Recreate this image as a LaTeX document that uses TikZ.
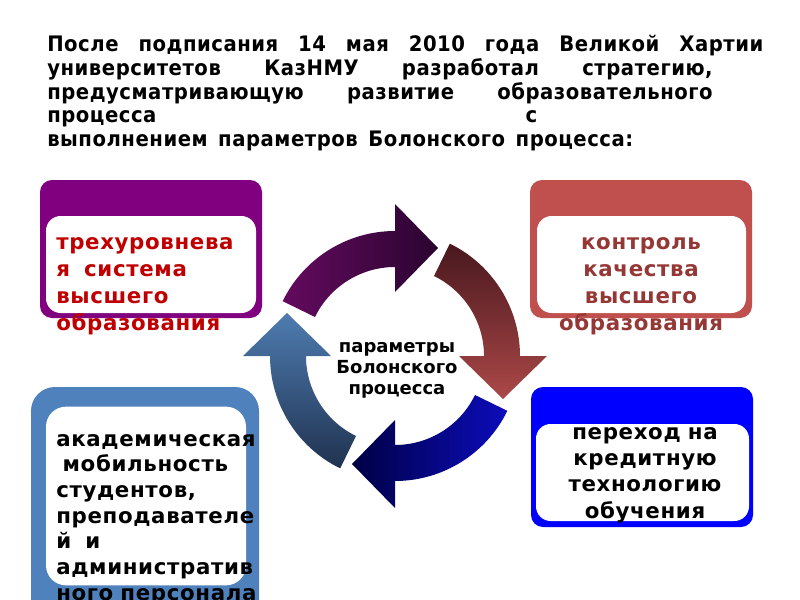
\documentclass[tikz,border=0pt]{standalone}
\usepackage{fontspec}
\setmainfont{DejaVu Sans}
\newfontfamily\titlefont[FakeStretch=0.92, LetterSpace=2.5]{DejaVu Sans}
\newfontfamily\boxfont[LetterSpace=3]{DejaVu Sans}
\usetikzlibrary{calc}
\definecolor{boxpurple}{RGB}{128,0,128}
\definecolor{boxred}{RGB}{192,80,77}
\definecolor{boxsteel}{RGB}{79,129,189}
\definecolor{boxblue}{RGB}{0,0,255}
\definecolor{txtred}{RGB}{192,0,0}
\definecolor{txtbrown}{RGB}{149,55,53}
\definecolor{arcpurpleA}{RGB}{100,10,95}
\definecolor{arcpurpleB}{RGB}{42,4,48}
\definecolor{arcredA}{RGB}{72,24,30}
\definecolor{arcredB}{RGB}{172,72,72}
\definecolor{arcblueA}{RGB}{0,0,68}
\definecolor{arcblueB}{RGB}{12,12,188}
\definecolor{arcsteelA}{RGB}{78,124,176}
\definecolor{arcsteelB}{RGB}{32,50,80}
\tikzset{
  titleline/.style={anchor=base west, inner sep=0pt, font=\titlefont\bfseries\fontsize{16}{18}\selectfont},
  framebox/.style={rounded corners=9pt, inner sep=0pt, draw=none},
  whitebox/.style={fill=white, rounded corners=11pt, inner sep=0pt, draw=none},
  boxtext/.style={inner sep=0pt, text width=170pt, font=\boxfont\bfseries\fontsize{16}{20.25}\selectfont},
  arctop/.style={left color=arcpurpleA, right color=arcpurpleB},
  arcright/.style={top color=arcredA, bottom color=arcredB},
  arcbottom/.style={left color=arcblueA, right color=arcblueB},
  arcleft/.style={top color=arcsteelA, bottom color=arcsteelB}
}
\begin{document}
\begin{tikzpicture}[x=0.75pt, y=-0.75pt]
\useasboundingbox (0,0) rectangle (800,600);
\clip (0,0) rectangle (800,600);
\fill[white] (0,0) rectangle (800,600);

\node[titleline] (t1) at (47,51) {\makebox[537pt][s]{После подписания 14 мая 2010 года Великой Хартии}};
\node[titleline] (t2) at (47,75) {\makebox[499pt][s]{университетов КазНМУ разработал стратегию,}};
\node[titleline] (t3) at (47,99) {\makebox[499pt][s]{предусматривающую развитие образовательного}};
\node[titleline] (t4) at (47,122) {\makebox[367.5pt][s]{процесса с}};
\node[titleline] (t5) at (47,146) {\makebox[439.5pt][s]{выполнением параметров Болонского процесса:}};

\node[framebox, fill=boxpurple, minimum width=166.5pt, minimum height=103.5pt] (levelsframe) at (151,249) {};
\node[whitebox, minimum width=157.5pt, minimum height=72.75pt] (levelsbg) at (151,264.5) {};
\node[boxtext, anchor=base west, align=left, text=txtred] (levels) at (56,249)
  {трехуровнева\\я\ \ система\\высшего\\образования};

\node[framebox, fill=boxred, minimum width=166.5pt, minimum height=103.5pt] (qualityframe) at (641,249) {};
\node[whitebox, minimum width=156.75pt, minimum height=72.75pt] (qualitybg) at (641.5,264.5) {};
\node[boxtext, anchor=base, align=center, text=txtbrown] (quality) at (641,249)
  {контроль\\качества\\высшего\\образования};

\node[framebox, rounded corners=18pt, fill=boxsteel, minimum width=171pt, minimum height=189.75pt] (mobilityframe) at (145,513.5) {};
\node[whitebox, rounded corners=15pt, minimum width=150pt, minimum height=134pt] (mobilitybg) at (146,496) {};
\node[boxtext, anchor=base west, align=left, font=\boxfont\bfseries\fontsize{16}{19.3}\selectfont] (mobility) at (56,446)
  {академическая\\\hspace*{.3em}мобильность\\студентов,\\преподавателе\\й\ \ и\\административ\\ного персонала};

\node[framebox, fill=boxblue, minimum width=166.5pt, minimum height=105pt] (creditframe) at (642,457) {};
\node[whitebox, minimum width=159.75pt, minimum height=72.75pt] (creditbg) at (642.5,472.5) {};
\node[boxtext, anchor=base, align=center, font=\boxfont\bfseries\fontsize{16}{19.8}\selectfont] (credit) at (645,439)
  {переход на\\кредитную\\технологию\\обучения};

\coordinate (c) at (395,356);
\foreach \b/\sh in {-90/arctop, 0/arcright, 90/arcbottom, 180/arcleft}
  \shade[\sh] ($(c)+(\b-64:125)$) arc[start angle=\b-64, end angle=\b, radius=125]
    -- ($(c)+(\b:152)$) -- ($(c)+(\b:108)+(\b+90:43)$) -- ($(c)+(\b:64)$)
    -- ($(c)+(\b:89)$) arc[start angle=\b, end angle=\b-64, radius=89] -- cycle;

\node[boxtext, anchor=base, align=center, text width=110pt, font=\bfseries\fontsize{13.5}{16.1}\selectfont] (bologna) at (397,352)
  {параметры\\Болонского\\процесса};
\end{tikzpicture}
\end{document}
